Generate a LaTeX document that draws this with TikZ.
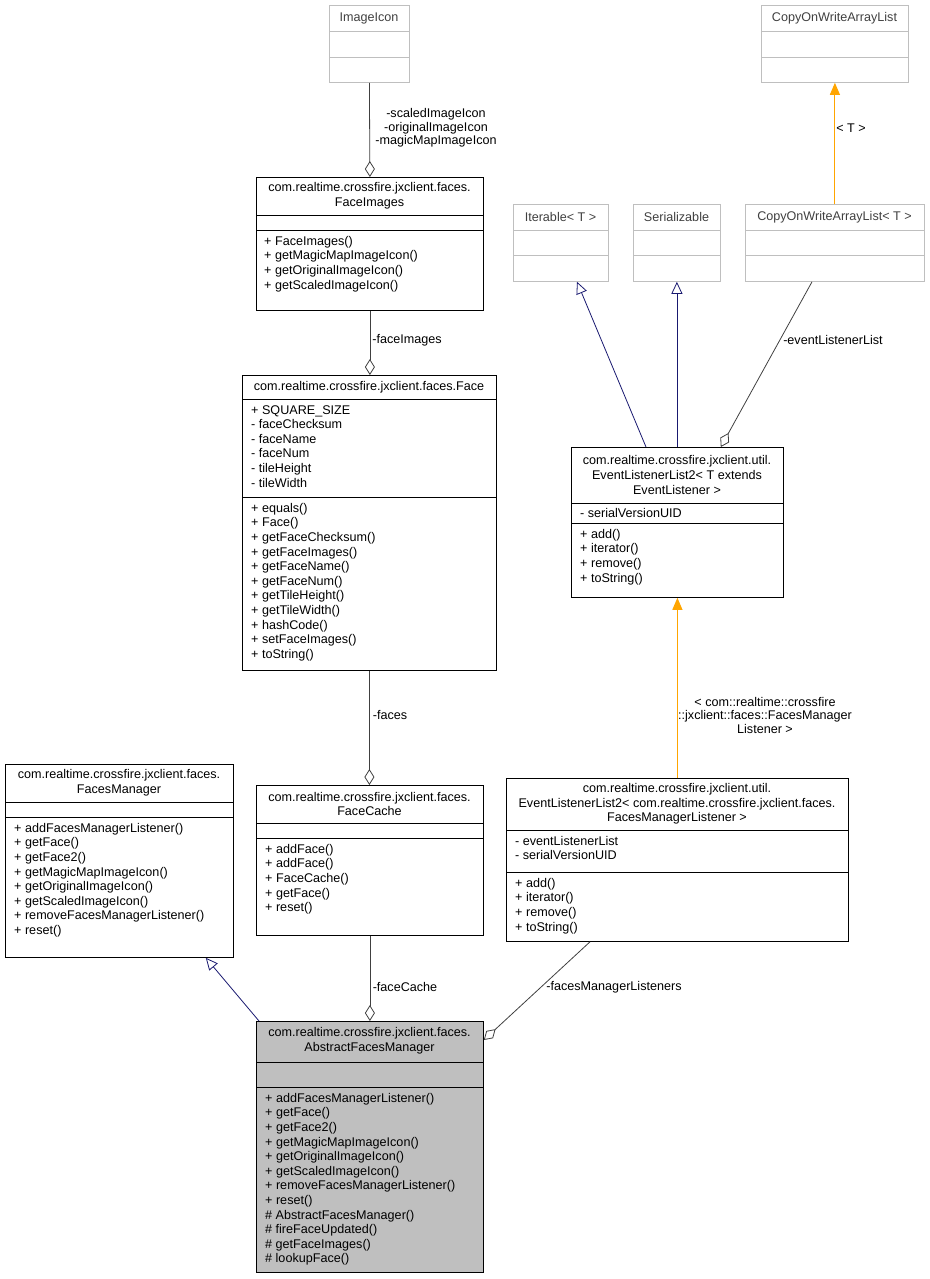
\documentclass[tikz,border=0pt]{standalone}
\usepackage{fontspec}
\setmainfont{Liberation Sans}
\usetikzlibrary{arrows.meta,calc}
\definecolor{navy}{HTML}{191970}
\definecolor{orng}{HTML}{FFA500}
\definecolor{gline}{HTML}{404040}
\definecolor{gborder}{HTML}{BFBFBF}
\tikzset{
 box/.style={draw=black,line width=0.8pt,inner sep=0},
 gbox/.style={draw=gborder,line width=0.8pt,inner sep=0},
 abox/.style={draw=black,fill=gborder,line width=0.8pt,inner sep=0},
 ttl/.style={align=center,inner sep=0,font=\fontsize{12.6}{14.6}\selectfont},
 mem/.style={align=left,inner sep=0,anchor=north west,yshift=-2pt,font=\fontsize{12.6}{14.6}\selectfont},
 lbl/.style={align=center,inner sep=0,font=\fontsize{12.6}{13.5}\selectfont},
 agg/.style={draw=gline,line width=0.8pt,-{Diamond[open,fill=white,length=16pt,width=10pt]}},
 inh/.style={draw=navy,line width=0.8pt,-{Triangle[open,fill=white,length=12pt,width=11pt]}},
 tpl/.style={draw=orng,line width=1pt,-{Triangle[fill=orng,length=12pt,width=10pt]}},
}
\newcommand\clsbox[6]{\node[#6,minimum width=#4pt,minimum height=#5pt,anchor=north west] (#1) at (#2,#3) {};}
\newcommand\sep[4][black]{\draw[#1,line width=0.8pt] (#2,#4) -- ++(#3,0);}
\begin{document}
\begin{tikzpicture}[x=1pt,y=-1pt]
\useasboundingbox (0,0) rectangle (929,1279);
% ImageIcon
\clsbox{imageicon}{329}{5}{80}{77}{gbox}
\sep[gborder]{329}{80}{31}\sep[gborder]{329}{80}{57}
\node[ttl,text=gline] (t1) at (369,18) {ImageIcon};
% CopyOnWriteArrayList
\clsbox{cowal}{761}{5}{147}{77}{gbox}
\sep[gborder]{761}{147}{31}\sep[gborder]{761}{147}{57}
\node[ttl,text=gline] (t2) at (834.5,18) {CopyOnWriteArrayList};
% FaceImages
\clsbox{faceimages}{256}{177}{227}{133}{box}
\sep{256}{227}{215}\sep{256}{227}{230}
\node[ttl] (t3) at (369.5,196) {com.realtime.crossfire.jxclient.faces.\\FaceImages};
\node[mem] (m3) at (264,234) {+ FaceImages()\\+ getMagicMapImageIcon()\\+ getOriginalImageIcon()\\+ getScaledImageIcon()};
% Iterable
\clsbox{iterable}{513}{204}{95}{77}{gbox}
\sep[gborder]{513}{95}{230}\sep[gborder]{513}{95}{255}
\node[ttl,text=gline] (t4) at (560.5,217) {Iterable< T >};
% Serializable
\clsbox{serial}{633}{204}{87}{77}{gbox}
\sep[gborder]{633}{87}{230}\sep[gborder]{633}{87}{255}
\node[ttl,text=gline] (t5) at (676.5,217) {Serializable};
% CopyOnWriteArrayList<T>
\clsbox{cowalt}{745}{204}{179}{77}{gbox}
\sep[gborder]{745}{179}{230}\sep[gborder]{745}{179}{255}
\node[ttl,text=gline] (t6) at (834.5,217) {CopyOnWriteArrayList< T >};
% Face
\clsbox{face}{242}{375}{254}{295}{box}
\sep{242}{254}{399}\sep{242}{254}{497}
\node[ttl] (t7) at (369,387) {com.realtime.crossfire.jxclient.faces.Face};
\node[mem] (a7) at (251,403) {+ SQUARE\_SIZE\\- faceChecksum\\- faceName\\- faceNum\\- tileHeight\\- tileWidth};
\node[mem] (m7) at (251,501) {+ equals()\\+ Face()\\+ getFaceChecksum()\\+ getFaceImages()\\+ getFaceName()\\+ getFaceNum()\\+ getTileHeight()\\+ getTileWidth()\\+ hashCode()\\+ setFaceImages()\\+ toString()};
% EventListenerList2<T>
\clsbox{ell}{571}{447}{212}{150}{box}
\sep{571}{212}{503}\sep{571}{212}{523}
\node[ttl] (t8) at (677,475) {com.realtime.crossfire.jxclient.util.\\EventListenerList2< T extends\\EventListener >};
\node[mem] (a8) at (580,506) {- serialVersionUID};
\node[mem] (m8) at (580,527) {+ add()\\+ iterator()\\+ remove()\\+ toString()};
% FacesManager
\clsbox{fm}{5}{764}{228}{193}{box}
\sep{5}{228}{802}\sep{5}{228}{817}
\node[ttl] (t9) at (119,783) {com.realtime.crossfire.jxclient.faces.\\FacesManager};
\node[mem] (m9) at (14,821) {+ addFacesManagerListener()\\+ getFace()\\+ getFace2()\\+ getMagicMapImageIcon()\\+ getOriginalImageIcon()\\+ getScaledImageIcon()\\+ removeFacesManagerListener()\\+ reset()};
% FaceCache
\clsbox{fc}{256}{785}{227}{150}{box}
\sep{256}{227}{823}\sep{256}{227}{838}
\node[ttl] (t10) at (369.5,804) {com.realtime.crossfire.jxclient.faces.\\FaceCache};
\node[mem] (m10) at (265,842) {+ addFace()\\+ addFace()\\+ FaceCache()\\+ getFace()\\+ reset()};
% EventListenerList2<FacesManagerListener>
\clsbox{ell2}{506}{778}{342}{163}{box}
\sep{506}{342}{830}\sep{506}{342}{872}
\node[ttl] (t11) at (677,804) {com.realtime.crossfire.jxclient.util.\\EventListenerList2< com.realtime.crossfire.jxclient.faces.\\FacesManagerListener >};
\node[mem] (a11) at (515,834) {- eventListenerList\\- serialVersionUID};
\node[mem] (m11) at (515,876) {+ add()\\+ iterator()\\+ remove()\\+ toString()};
% AbstractFacesManager
\clsbox{afm}{256}{1021}{227}{251}{abox}
\sep{256}{227}{1062}\sep{256}{227}{1087}
\node[ttl] (t12) at (369.5,1041) {com.realtime.crossfire.jxclient.faces.\\AbstractFacesManager};
\node[mem] (m12) at (265,1091) {+ addFacesManagerListener()\\+ getFace()\\+ getFace2()\\+ getMagicMapImageIcon()\\+ getOriginalImageIcon()\\+ getScaledImageIcon()\\+ removeFacesManagerListener()\\+ reset()\\\# AbstractFacesManager()\\\# fireFaceUpdated()\\\# getFaceImages()\\\# lookupFace()};
% edges
\draw[agg] (imageicon.south) -- (faceimages.north);
\node[lbl] (l1) at (436,128) {-scaledImageIcon\\-originalImageIcon\\-magicMapImageIcon};
\draw[tpl] (cowalt.north-|cowal.south) -- (cowal.south);
\node[lbl] (l2) at (851,128) {< T >};
\draw[inh] ($(ell.north west)+(75,0)$) -- ($(iterable.south west)+(64,0)$);
\draw[inh] (ell.north-|serial.south) -- (serial.south);
\draw[agg] ($(cowalt.south west)+(67,0)$) -- ($(ell.north east)+(-63,0)$);
\node[lbl] (l3) at (833,340) {-eventListenerList};
\draw[agg] (faceimages.south) -- (faceimages.south|-face.north);
\node[lbl] (l4) at (407,340) {-faceImages};
\draw[agg] (face.south) -- (face.south|-fc.north);
\node[lbl] (l5) at (390,715) {-faces};
\draw[tpl] (ell2.north) -- (ell2.north|-ell.south);
\node[lbl] (l6) at (765,715) {< com::realtime::crossfire\\::jxclient::faces::FacesManager\\Listener >};
\draw[inh] ($(afm.north west)+(3,0)$) -- ($(fm.south east)+(-28,0)$);
\draw[agg] (fc.south) -- (afm.north);
\node[lbl] (l7) at (405,987) {-faceCache};
\draw[agg] ($(ell2.south west)+(84,0)$) -- ($(afm.north east)+(0,19)$);
\node[lbl] (l8) at (614,987) {-facesManagerListeners};
\end{tikzpicture}
\end{document}
